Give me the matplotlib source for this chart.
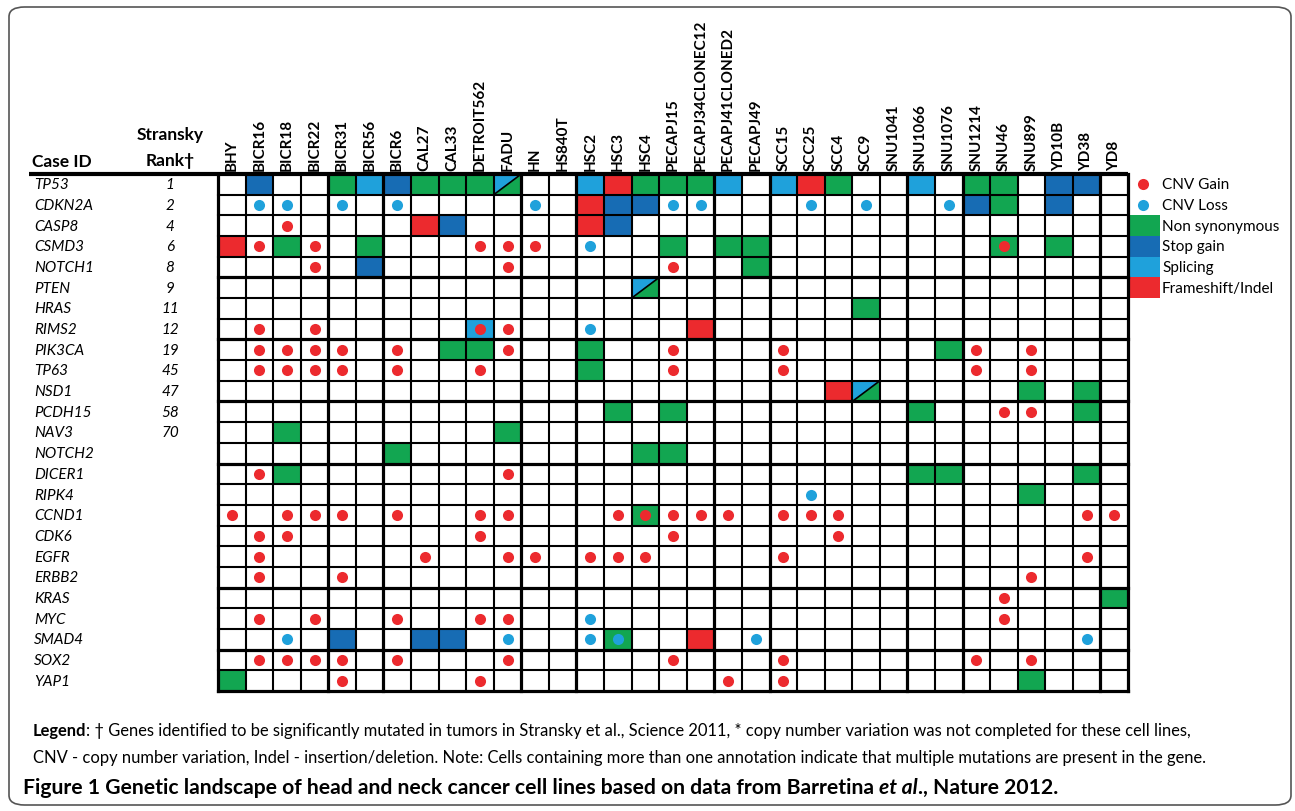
import matplotlib.pyplot as plt
from matplotlib.patches import Rectangle, Polygon, FancyBboxPatch

plt.rcParams['font.family'] = ['Lato', 'DejaVu Sans']

# cell lines (columns) and genes (rows)
cell_lines = ['BHY', 'BICR16', 'BICR18', 'BICR22', 'BICR31', 'BICR56', 'BICR6', 'CAL27',
              'CAL33', 'DETROIT562', 'FADU', 'HN', 'HS840T', 'HSC2', 'HSC3', 'HSC4',
              'PECAPJ15', 'PECAPJ34CLONEC12', 'PECAPJ41CLONED2', 'PECAPJ49', 'SCC15',
              'SCC25', 'SCC4', 'SCC9', 'SNU1041', 'SNU1066', 'SNU1076', 'SNU1214',
              'SNU46', 'SNU899', 'YD10B', 'YD38', 'YD8']
genes = ['TP53', 'CDKN2A', 'CASP8', 'CSMD3', 'NOTCH1', 'PTEN', 'HRAS', 'RIMS2', 'PIK3CA',
         'TP63', 'NSD1', 'PCDH15', 'NAV3', 'NOTCH2', 'DICER1', 'RIPK4', 'CCND1', 'CDK6',
         'EGFR', 'ERBB2', 'KRAS', 'MYC', 'SMAD4', 'SOX2', 'YAP1']
ranks = ['1', '2', '4', '6', '8', '9', '11', '12', '19', '45', '47', '58', '70']

# mutations: gene -> cell lines
non_syn = {
    'TP53': ['BICR31', 'CAL27', 'CAL33', 'DETROIT562', 'HSC4', 'PECAPJ15', 'PECAPJ34CLONEC12',
             'SCC4', 'SNU1214', 'SNU46'],
    'CDKN2A': ['SNU46'],
    'CSMD3': ['BICR18', 'BICR56', 'PECAPJ15', 'PECAPJ41CLONED2', 'PECAPJ49', 'SNU46', 'YD10B'],
    'NOTCH1': ['PECAPJ49'],
    'HRAS': ['SCC9'],
    'PIK3CA': ['CAL33', 'DETROIT562', 'HSC2', 'SNU1076'],
    'TP63': ['HSC2'],
    'NSD1': ['SNU899', 'YD38'],
    'PCDH15': ['HSC3', 'PECAPJ15', 'SNU1066', 'YD38'],
    'NAV3': ['BICR18', 'FADU'],
    'NOTCH2': ['BICR6', 'HSC4', 'PECAPJ15'],
    'DICER1': ['BICR18', 'SNU1066', 'SNU1076', 'YD38'],
    'RIPK4': ['SNU899'],
    'CCND1': ['HSC4'],
    'KRAS': ['YD8'],
    'SMAD4': ['HSC3'],
    'YAP1': ['BHY', 'SNU899'],
}
stop_gain = {
    'TP53': ['BICR16', 'BICR6', 'YD10B', 'YD38'],
    'CDKN2A': ['HSC3', 'HSC4', 'SNU1214', 'YD10B'],
    'CASP8': ['CAL33', 'HSC3'],
    'NOTCH1': ['BICR56'],
    'SMAD4': ['BICR31', 'CAL27', 'CAL33'],
}
splicing = {
    'TP53': ['BICR56', 'HSC2', 'PECAPJ41CLONED2', 'SCC15', 'SNU1066'],
    'RIMS2': ['DETROIT562'],
}
frameshift = {
    'TP53': ['HSC3', 'SCC25'],
    'CDKN2A': ['HSC2'],
    'CASP8': ['CAL27', 'HSC2'],
    'CSMD3': ['BHY'],
    'RIMS2': ['PECAPJ34CLONEC12'],
    'NSD1': ['SCC4'],
    'SMAD4': ['PECAPJ34CLONEC12'],
}
# splicing + non synonymous in the same cell
split = {'TP53': ['FADU'], 'PTEN': ['HSC4'], 'NSD1': ['SCC9']}

cnv_gain = {
    'CASP8': ['BICR18'],
    'CSMD3': ['BICR16', 'BICR22', 'DETROIT562', 'FADU', 'HN', 'SNU46'],
    'NOTCH1': ['BICR22', 'FADU', 'PECAPJ15'],
    'RIMS2': ['BICR16', 'BICR22', 'DETROIT562', 'FADU'],
    'PIK3CA': ['BICR16', 'BICR18', 'BICR22', 'BICR31', 'BICR6', 'FADU', 'PECAPJ15', 'SCC15',
               'SNU1214', 'SNU899'],
    'TP63': ['BICR16', 'BICR18', 'BICR22', 'BICR31', 'BICR6', 'DETROIT562', 'PECAPJ15',
             'SCC15', 'SNU1214', 'SNU899'],
    'PCDH15': ['SNU46', 'SNU899'],
    'DICER1': ['BICR16', 'FADU'],
    'CCND1': ['BHY', 'BICR18', 'BICR22', 'BICR31', 'BICR6', 'DETROIT562', 'FADU', 'HSC3',
              'HSC4', 'PECAPJ15', 'PECAPJ34CLONEC12', 'PECAPJ41CLONED2', 'SCC15', 'SCC25',
              'SCC4', 'YD38', 'YD8'],
    'CDK6': ['BICR16', 'BICR18', 'DETROIT562', 'PECAPJ15', 'SCC4'],
    'EGFR': ['BICR16', 'CAL27', 'FADU', 'HN', 'HSC2', 'HSC3', 'HSC4', 'SCC15', 'YD38'],
    'ERBB2': ['BICR16', 'BICR31', 'SNU899'],
    'KRAS': ['SNU46'],
    'MYC': ['BICR16', 'BICR22', 'BICR6', 'DETROIT562', 'FADU', 'SNU46'],
    'SOX2': ['BICR16', 'BICR18', 'BICR22', 'BICR31', 'BICR6', 'FADU', 'PECAPJ15', 'SCC15',
             'SNU1214', 'SNU899'],
    'YAP1': ['BICR31', 'DETROIT562', 'PECAPJ41CLONED2', 'SCC15'],
}
cnv_loss = {
    'CDKN2A': ['BICR16', 'BICR18', 'BICR31', 'BICR6', 'HN', 'PECAPJ15', 'PECAPJ34CLONEC12',
               'SCC25', 'SCC9', 'SNU1076'],
    'CSMD3': ['HSC2'],
    'RIMS2': ['HSC2'],
    'RIPK4': ['SCC25'],
    'MYC': ['HSC2'],
    'SMAD4': ['BICR18', 'FADU', 'HSC2', 'HSC3', 'PECAPJ49', 'YD38'],
}

GREEN = '#12a651'
DARK_BLUE = '#176cb4'
LIGHT_BLUE = '#1fa1db'
RED = '#ec2a2e'

W, H = 1295, 812
fig = plt.figure(figsize=(W / 100, H / 100), dpi=100)
gx0, gx1, gy0, gy1 = 218, 1128, 175, 692
ax = fig.add_axes([gx0 / W, 1 - gy1 / H, (gx1 - gx0) / W, (gy1 - gy0) / H])
ax.set_xlim(0, len(cell_lines))
ax.set_ylim(len(genes), 0)
ax.axis('off')

cw = (gx1 - gx0) / len(cell_lines)
rh = (gy1 - gy0) / len(genes)


def cx(px):
    return (px - gx0) / cw


def cy(py):
    return (py - gy0) / rh


col = {c: i for i, c in enumerate(cell_lines)}
row = {g: i for i, g in enumerate(genes)}

for table, color in [(non_syn, GREEN), (stop_gain, DARK_BLUE),
                     (splicing, LIGHT_BLUE), (frameshift, RED)]:
    for g, lines in table.items():
        for c in lines:
            ax.add_patch(Rectangle((col[c], row[g]), 1, 1, facecolor=color,
                                   edgecolor='none', zorder=1))

for g, lines in split.items():
    for c in lines:
        i, r = col[c], row[g]
        ax.add_patch(Polygon([(i, r), (i + 1, r), (i, r + 1)], closed=True,
                             facecolor=LIGHT_BLUE, edgecolor='none', zorder=1))
        ax.add_patch(Polygon([(i + 1, r), (i + 1, r + 1), (i, r + 1)], closed=True,
                             facecolor=GREEN, edgecolor='none', zorder=1))
        ax.plot([i, i + 1], [r + 1, r], color='black', lw=1.2, zorder=2)

for table, color in [(cnv_gain, RED), (cnv_loss, LIGHT_BLUE)]:
    for g, lines in table.items():
        xs = [col[c] + 0.5 for c in lines]
        ys = [row[g] + 0.5 for _ in lines]
        ax.plot(xs, ys, 'o', color=color, markersize=8, markeredgewidth=0, zorder=3)

# grid lines
thick_cols = {0, 4, 6, 11, 13, 18, 20, 25, 27, 32, 33}
thick_rows = {5, 8, 11, 14, 20, 23, 25}
for k in range(len(cell_lines) + 1):
    ax.plot([k, k], [0, len(genes)], color='black', lw=2.3 if k in thick_cols else 1.5,
            solid_capstyle='projecting', zorder=4, clip_on=False)
for k in range(1, len(genes) + 1):
    ax.plot([0, len(cell_lines)], [k, k], color='black', lw=2.3 if k in thick_rows else 1.5,
            solid_capstyle='projecting', zorder=4, clip_on=False)
ax.plot([cx(29), len(cell_lines)], [0, 0], color='black', lw=3, zorder=4, clip_on=False,
        solid_capstyle='butt')

# column labels
for c, i in col.items():
    ax.text(i + 0.5, -0.2, c, rotation=90, ha='center', va='bottom', fontsize=11,
            fontweight='bold', clip_on=False)

# row labels and ranks
for g, r in row.items():
    ax.text(cx(34), r + 0.5, g, ha='left', va='center', fontsize=11, style='italic',
            clip_on=False)
for r, rk in enumerate(ranks):
    ax.text(cx(170), r + 0.5, rk, ha='center', va='center', fontsize=11, style='italic',
            clip_on=False)

ax.text(cx(32), cy(167), 'Case ID', ha='left', va='baseline', fontsize=12.5,
        fontweight='bold', clip_on=False)
ax.text(cx(170), cy(140), 'Stransky', ha='center', va='baseline', fontsize=12.5,
        fontweight='bold', clip_on=False)
ax.text(cx(170), cy(166), 'Rank\u2020', ha='center', va='baseline', fontsize=12.5,
        fontweight='bold', clip_on=False)

# legend to the right of the grid
leg_x = len(cell_lines)
ax.plot([cx(1143)], [0.5], 'o', color=RED, markersize=8, markeredgewidth=0, clip_on=False)
ax.plot([cx(1143)], [1.5], 'o', color=LIGHT_BLUE, markersize=8, markeredgewidth=0,
        clip_on=False)
ax.text(cx(1162), 0.5, 'CNV Gain', va='center', fontsize=11, clip_on=False)
ax.text(cx(1162), 1.5, 'CNV Loss', va='center', fontsize=11, clip_on=False)
for k, (lab, color) in enumerate([('Non synonymous', GREEN), ('Stop gain', DARK_BLUE),
                                  ('Splicing', LIGHT_BLUE), ('Frameshift/Indel', RED)]):
    ax.add_patch(Rectangle((leg_x, 2 + k), cx(1160) - leg_x, 1, facecolor=color,
                           edgecolor='none', clip_on=False, zorder=1))
    ax.text(cx(1162), 2.5 + k, lab, va='center', fontsize=11, clip_on=False)

# outer rounded frame
fig.patches.append(FancyBboxPatch((9 / W, 1 - 806 / H), (1291 - 9) / W, (806 - 8) / H,
                                  boxstyle='round,pad=0,rounding_size=0.012',
                                  transform=fig.transFigure, facecolor='none',
                                  edgecolor='#555555', lw=1.2))

# bottom notes, each line stretched to the width it has in the figure
fig.canvas.draw()
rend = fig.canvas.get_renderer()


def run_text(x, y, parts, size, x_end):
    def draw(sz):
        xx = x
        out = []
        for s, kw in parts:
            t = fig.text(xx / W, 1 - y / H, s, ha='left', va='baseline', fontsize=sz, **kw)
            xx += t.get_window_extent(rend).width
            out.append(t)
        return out, xx - x

    texts, width = draw(size)
    for t in texts:
        t.remove()
    draw(size * (x_end - x) / width)


run_text(33, 736, [('Legend', {'fontweight': 'bold'}),
                   (': \u2020 Genes identified to be significantly mutated in tumors in Stransky '
                    'et al., Science 2011, * copy number variation was not completed for these '
                    'cell lines,', {})], 10.5, 1196)
run_text(33, 763, [('CNV - copy number variation, Indel - insertion/deletion. Note: Cells '
                    'containing more than one annotation indicate that multiple mutations are '
                    'present in the gene.', {})], 10.5, 1214)
run_text(23, 794, [('Figure 1 Genetic landscape of head and neck cancer cell lines based on '
                    'data from Barretina ', {'fontweight': 'bold'}),
                   ('et al', {'fontweight': 'bold', 'style': 'italic'}),
                   ('., Nature 2012.', {'fontweight': 'bold'})], 13, 1057)

fig.savefig('out.png', dpi=100)
